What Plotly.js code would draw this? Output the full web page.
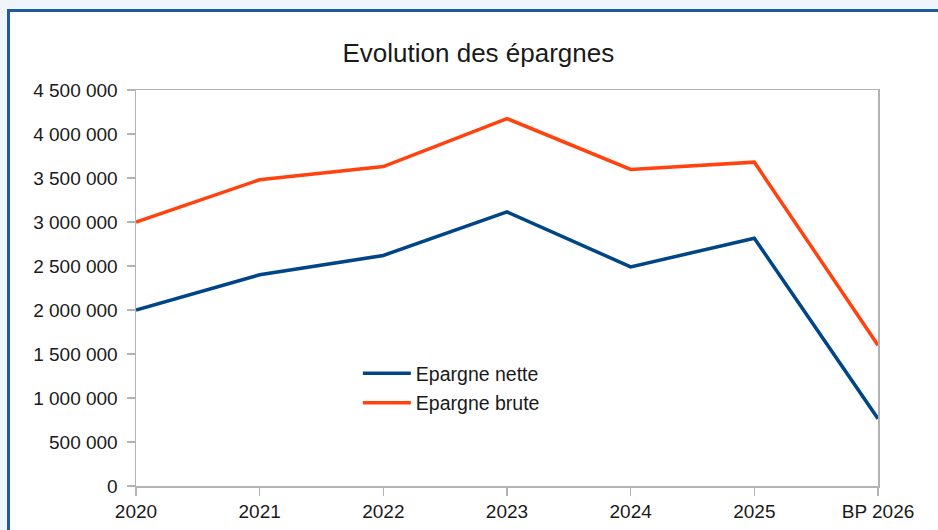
<!DOCTYPE html>
<html>
<head>
<meta charset="utf-8">
<script src="https://cdn.plot.ly/plotly-3.0.1.min.js"></script>
<style>
  html, body { margin: 0; padding: 0; background: #eef5fd; overflow: hidden; }
  #frame { position: absolute; left: 7px; top: 9px; width: 1000px; height: 600px;
           border: 3px solid #1f5a9c; background: #ffffff; }
  #chart { position: absolute; left: 0; top: 0; width: 938px; height: 530px; }
</style>
</head>
<body>
<div id="frame"></div>
<div id="chart"></div>
<script>
const categories = ["2020", "2021", "2022", "2023", "2024", "2025", "BP 2026"];
const epargneNette = [2000000, 2400000, 2620000, 3115000, 2490000, 2815000, 765000];
const epargneBrute = [3000000, 3480000, 3630000, 4175000, 3597000, 3680000, 1600000];
const seriesNames = ["Epargne nette", "Epargne brute"];
const chartTitle = "Evolution des épargnes";

const FONT = "Liberation Sans, Arial, sans-serif";

const traces = [
  { x: categories, y: epargneNette, name: seriesNames[0], type: "scatter", mode: "lines",
    line: { color: "#004586", width: 3.5 }, cliponaxis: false, legendgroup: "a" },
  { x: categories, y: epargneBrute, name: seriesNames[1], type: "scatter", mode: "lines",
    line: { color: "#ff420e", width: 3.5 }, cliponaxis: false, legendgroup: "b" }
];

const layout = {
  width: 938, height: 530,
  paper_bgcolor: "rgba(0,0,0,0)",
  plot_bgcolor: "#ffffff",
  margin: { l: 136, r: 60, t: 90, b: 44 },
  separators: ", ",
  font: { family: FONT, size: 19, color: "#1a1a1a" },
  title: { text: chartTitle, font: { family: FONT, size: 26, color: "#1a1a1a" },
           x: 0.51, xref: "container", xanchor: "center",
           y: 1 - 53 / 530, yref: "container", yanchor: "middle" },
  showlegend: true,
  legend: { x: 0.299, y: 0.333, xanchor: "left", yanchor: "top",
            bgcolor: "rgba(0,0,0,0)", borderwidth: 0,
            font: { family: FONT, size: 19.5, color: "#1a1a1a" },
            tracegroupgap: 1, itemwidth: 48 },
  xaxis: {
    type: "category", range: [0, 6],
    showline: true, linecolor: "#b3b3b3", linewidth: 1.5, mirror: true,
    showgrid: false, zeroline: false,
    ticks: "outside", ticklen: 8, tickcolor: "#b3b3b3", tickwidth: 1.5,
    tickfont: { family: FONT, size: 19, color: "#1a1a1a" }
  },
  yaxis: {
    range: [0, 4500000], dtick: 500000, tick0: 0, tickformat: ",d",
    showline: true, linecolor: "#b3b3b3", linewidth: 1.5, mirror: true,
    showgrid: false, zeroline: false,
    ticks: "outside", ticklen: 8, tickcolor: "#b3b3b3", tickwidth: 1.5,
    ticklabelstandoff: 5,
    tickfont: { family: FONT, size: 19, color: "#1a1a1a" }
  }
};

Plotly.newPlot("chart", traces, layout, { displayModeBar: false, staticPlot: true });
</script>
</body>
</html>
